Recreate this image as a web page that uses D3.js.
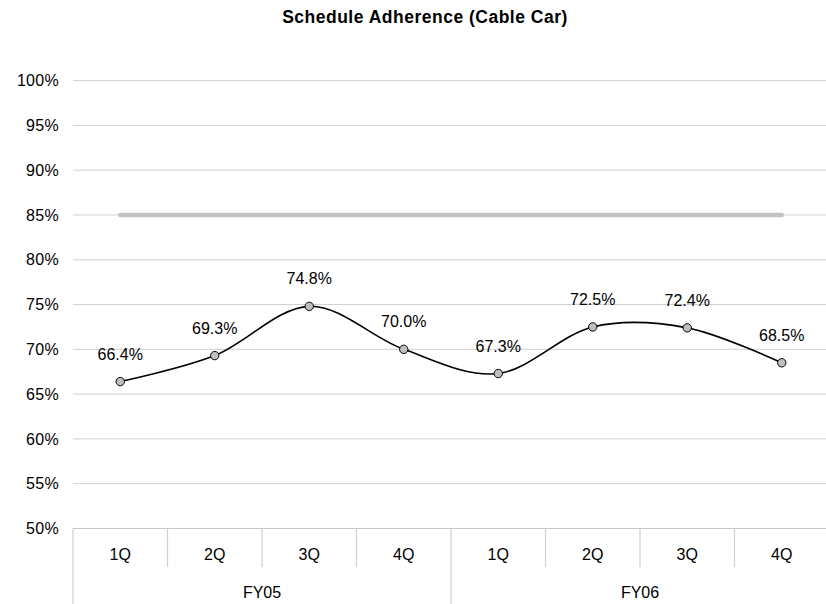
<!DOCTYPE html>
<html>
<head>
<meta charset="utf-8">
<script src="https://cdn.jsdelivr.net/npm/d3@7"></script>
<style>
html,body{margin:0;padding:0;background:#fff;}
svg{display:block;font-family:"Liberation Sans",Arial,sans-serif;}
</style>
</head>
<body>
<svg id="chart" width="826" height="604"></svg>
<script>
const title = "Schedule Adherence (Cable Car)";
const quarters = ["1Q","2Q","3Q","4Q","1Q","2Q","3Q","4Q"];
const years = ["FY05","FY06"];
const adherence = [66.4, 69.3, 74.8, 70.0, 67.3, 72.5, 72.4, 68.5];
const target = [85, 85, 85, 85, 85, 85, 85, 85];
const yTicks = [50,55,60,65,70,75,80,85,90,95,100];

const svg = d3.select("#chart");
const plotLeft = 73, plotRight = 829, plotTop = 80.6, plotBottom = 528.5;
const idx = d3.range(quarters.length);
const x = d3.scaleBand().domain(idx).range([plotLeft, plotRight]).padding(0);
const y = d3.scaleLinear().domain([50, 100]).range([plotBottom, plotTop]);
const cx = i => x(i) + x.bandwidth() / 2;

// title
svg.append("text").attr("x", 425).attr("y", 23).attr("text-anchor", "middle")
  .attr("font-size", 17.5).attr("font-weight", "bold").attr("letter-spacing", 0.5)
  .attr("fill", "#000").text(title);

// gridlines + y axis labels
const yAxis = d3.axisLeft(y).tickValues(yTicks).tickSize(0).tickPadding(14)
  .tickFormat(d => d + "%");
const gy = svg.append("g").attr("transform", `translate(${plotLeft},0)`).call(yAxis);
gy.select(".domain").remove();
gy.selectAll("text").attr("font-size", 16).attr("fill", "#000").attr("letter-spacing", 0.3)
  .attr("font-family", "'Liberation Sans',Arial,sans-serif");
svg.append("g").selectAll("line").data(yTicks.filter(d => d > 50)).join("line")
  .attr("x1", plotLeft).attr("x2", plotRight).attr("y1", d => y(d)).attr("y2", d => y(d))
  .attr("stroke", "#d0d0d0").attr("stroke-width", 1);

// category axis
const gx = svg.append("g");
gx.append("line").attr("x1", plotLeft).attr("x2", plotRight).attr("y1", y(50)).attr("y2", y(50))
  .attr("stroke", "#c8c8c8").attr("stroke-width", 1.2);
gx.selectAll("line.div").data(idx).join("line").attr("class", "div")
  .attr("x1", d => x(d)).attr("x2", d => x(d))
  .attr("y1", y(50)).attr("y2", d => (d % 4 === 0) ? 604 : 567)
  .attr("stroke", "#d0d0d0").attr("stroke-width", 1.2);
gx.selectAll("text.q").data(idx).join("text").attr("class", "q")
  .attr("x", cx).attr("y", 560).attr("text-anchor", "middle")
  .attr("font-size", 16).attr("fill", "#000").text(i => quarters[i]);
gx.selectAll("text.fy").data(years).join("text").attr("class", "fy")
  .attr("x", (d, j) => (x(j * 4) + x(j * 4 + 3) + x.bandwidth()) / 2).attr("y", 598)
  .attr("text-anchor", "middle").attr("font-size", 16).attr("fill", "#000").text(d => d);

// target line
svg.append("path").datum(target)
  .attr("d", d3.line().x((d, i) => cx(i)).y(d => y(d)))
  .attr("fill", "none").attr("stroke", "#c3c3c3").attr("stroke-width", 4.5)
  .attr("stroke-linecap", "round");

// adherence line
svg.append("path").datum(adherence)
  .attr("d", d3.line().x((d, i) => cx(i)).y(d => y(d)).curve(d3.curveCardinal.tension(0)))
  .attr("fill", "none").attr("stroke", "#000").attr("stroke-width", 1.6);

svg.append("g").selectAll("circle").data(adherence).join("circle")
  .attr("cx", (d, i) => cx(i)).attr("cy", d => y(d)).attr("r", 4.2)
  .attr("fill", "#bfbfbf").attr("stroke", "#000").attr("stroke-width", 1);

svg.append("g").selectAll("text").data(adherence).join("text")
  .attr("x", (d, i) => cx(i)).attr("y", d => y(d) - 22)
  .attr("text-anchor", "middle").attr("font-size", 16).attr("fill", "#000")
  .text(d => d.toFixed(1) + "%");
</script>
</body>
</html>
